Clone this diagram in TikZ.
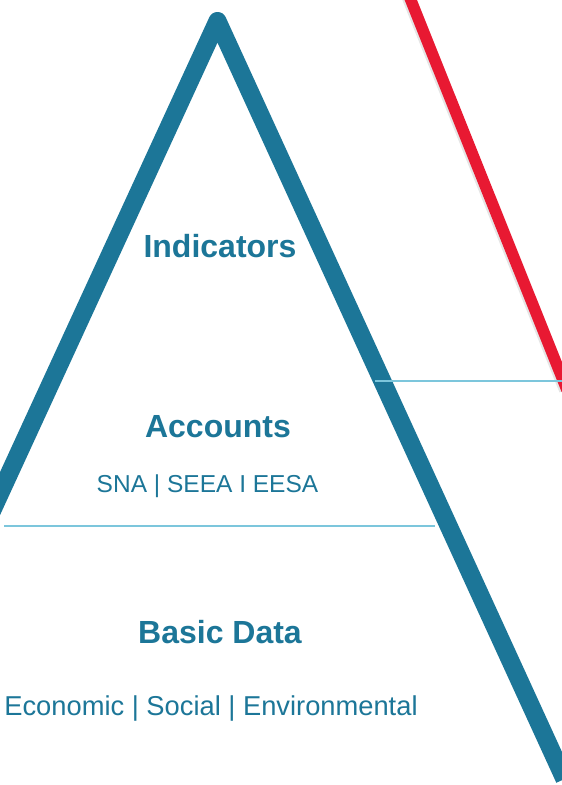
\documentclass[tikz,border=0pt]{standalone}
\usepackage{fontspec}
\setmainfont{Liberation Sans}
\definecolor{pyrblue}{RGB}{28,118,152}
\definecolor{pyrred}{RGB}{232,25,50}
\definecolor{tierline}{RGB}{124,198,220}
\begin{document}
\begin{tikzpicture}[x=1pt,y=-1pt,
  frame/.style={line width=18pt,draw=pyrblue,line join=round,line cap=butt},
  edge/.style={line width=11.5pt,draw=pyrred,line cap=butt},
  tier/.style={line width=2.2pt,draw=tierline},
  head/.style={anchor=base,inner sep=0pt,text=pyrblue,font=\fontsize{32}{32}\selectfont\bfseries},
  sub/.style={anchor=base,inner sep=0pt,text=pyrblue}]
\useasboundingbox (0,0) rectangle (562,785);
\clip (0,0) rectangle (562,785);
\fill[white] (0,0) rectangle (562,785);

% pyramid outline
\coordinate (apex) at (217.5,21);
\coordinate (leftfoot) at (-141,800);
\coordinate (rightfoot) at (564.5,779);
\draw[frame] (leftfoot) -- (apex) -- (rightfoot);

% red slope with a soft shadow
\coordinate (rtop) at (406,-12);
\coordinate (rbot) at (567,390);
\draw[line width=13pt,draw=black,opacity=0.10] ([xshift=-1.5pt]rtop) -- ([xshift=-1.5pt]rbot);
\draw[edge] (rtop) -- (rbot);

% tier separators
\coordinate (t1a) at (375,381);
\coordinate (t1b) at (562,381);
\coordinate (t2a) at (4,526);
\coordinate (t2b) at (435,526);
\draw[tier] (t1a) -- (t1b);
\draw[tier] (t2a) -- (t2b);

% labels
\node[head] (ind) at (220,257) {Indicators};
\node[head] (acc) at (218,437) {Accounts};
\node[sub,font=\fontsize{24.5}{24.5}\selectfont] (accsub) at (207.5,492) {SNA | SEEA I EESA};
\node[head] (bas) at (220,643) {Basic Data};
\node[sub,font=\fontsize{27.3}{27.3}\selectfont] (bassub) at (211,715) {Economic | Social | Environmental};
\end{tikzpicture}
\end{document}
